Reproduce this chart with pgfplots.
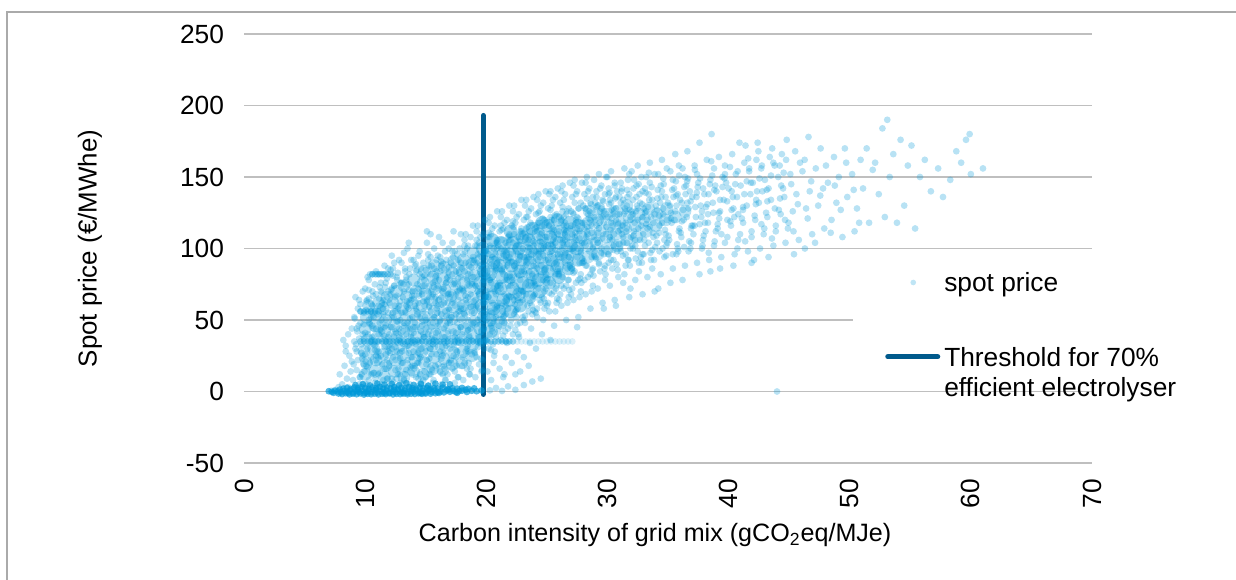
\documentclass[border=0pt]{standalone}
\usepackage{fontspec}
\setmainfont{Liberation Sans}
\usepackage{pgfplots}
\pgfplotsset{compat=1.18}
\definecolor{scat}{RGB}{0,152,216}
\definecolor{thr}{RGB}{0,90,140}
\definecolor{gridc}{RGB}{191,191,191}
\definecolor{framec}{RGB}{170,170,170}
\begin{document}
\begin{tikzpicture}
\path[use as bounding box] (0,0) rectangle (618bp,290bp);
\draw[framec, line width=0.7bp] (3.5bp,-20bp) -- (3.5bp,284bp) -- (640bp,284bp);
\begin{axis}[
  at={(122bp,58.5bp)}, anchor=south west,
  scale only axis, width=424bp, height=214.5bp,
  xmin=0, xmax=70, ymin=-50, ymax=250,
  xtick={0,10,20,30,40,50,60,70},
  xticklabels={0,10,20,30,40,50,60,70},
  ytick={-50,0,50,100,150,200,250},
  yticklabels={-50,0,50,100,150,200,250},
  axis line style={draw=none},
  major tick length=0pt,
  ymajorgrids, grid style={gridc, line width=0.65bp},
  tick label style={font=\fontsize{13.2}{15.5}\selectfont},
  x tick label style={yshift=-4.5bp, rotate=90, anchor=east},
  y tick label style={xshift=-6.5bp},
  xlabel={Carbon intensity of grid mix (gCO\textsubscript{2}eq/MJe)},
  ylabel={Spot price (€/MWhe)},
  xlabel style={font=\fontsize{12.6}{15}\selectfont, at={(axis description cs:0.4847,-0.168)}, anchor=center},
  ylabel style={font=\fontsize{13}{15}\selectfont, at={(axis description cs:-0.1816,0.5)}, anchor=center},
  legend style={at={(axis description cs:0.718,0.487)}, anchor=north west,
    draw=none, fill=white, font=\fontsize{13.2}{15.5}\selectfont,
    inner xsep=16bp, inner ysep=7bp, row sep=21bp,
    cells={anchor=base west}, nodes={inner xsep=2bp}},
  legend cell align=left,
  clip=false,
  mark size=1.7bp,
]
% dense core, left part
\addplot[only marks, mark=*, mark size=3.2bp, mark options={scat, fill opacity=0.3, draw opacity=0}, forget plot] coordinates {
(10.0,12)(10.1,20)(9.9,28)(10.2,36)(10.0,44)(10.1,52)(10.3,60)
(10.8,14)(10.9,22)(10.7,30)(11.0,38)(10.8,46)(10.9,54)(11.1,62)
(11.6,10)(11.7,18)(11.5,26)(11.8,34)(11.6,42)(11.7,50)(11.5,58)(11.8,66)
(12.4,14)(12.5,22)(12.3,30)(12.6,38)(12.4,46)(12.5,54)(12.3,62)(12.6,70)
(13.2,10)(13.3,18)(13.1,26)(13.4,34)(13.2,42)(13.3,50)(13.1,58)(13.4,66)(13.2,74)
(14.0,14)(14.1,22)(13.9,30)(14.2,38)(14.0,46)(14.1,54)(13.9,62)(14.2,70)(14.0,78)
(14.8,12)(14.9,20)(14.7,28)(15.0,36)(14.8,44)(14.9,52)(14.7,60)(15.0,68)(14.8,76)(14.9,84)
(15.6,16)(15.7,24)(15.5,32)(15.8,40)(15.6,48)(15.7,56)(15.5,64)(15.8,72)(15.6,80)(15.7,88)
(16.4,15)(16.5,23)(16.3,31)(16.6,39)(16.4,47)(16.5,55)(16.3,63)(16.6,71)(16.4,79)(16.5,87)
(17.2,19)(17.3,27)(17.1,35)(17.4,43)(17.2,51)(17.3,59)(17.1,67)(17.4,75)(17.2,83)(17.3,91)
(18.0,20)(18.1,28)(17.9,36)(18.2,44)(18.0,52)(18.1,60)(17.9,68)(18.2,76)(18.0,84)(18.1,92)
(18.8,25)(18.9,33)(18.7,41)(19.0,49)(18.8,57)(18.9,65)(18.7,73)(19.0,81)(18.8,89)(18.9,97)
};
% dense core, darkest part
\addplot[only marks, mark=*, mark size=3.4bp, mark options={scat, fill opacity=0.38, draw opacity=0}, forget plot] coordinates {
(19.6,36)(19.5,44)(19.8,52)(19.6,60)(19.7,68)(19.5,76)(19.8,84)(19.6,92)(19.7,100)
(20.4,42)(20.3,50)(20.6,58)(20.4,66)(20.5,74)(20.3,82)(20.6,90)(20.4,98)(20.5,106)
(21.2,48)(21.1,56)(21.4,64)(21.2,72)(21.3,80)(21.1,88)(21.4,96)(21.2,104)
(22.0,56)(21.9,64)(22.2,72)(22.0,80)(22.1,88)(21.9,96)(22.2,104)(22.0,112)
(22.8,60)(22.7,68)(23.0,76)(22.8,84)(22.9,92)(22.7,100)(23.0,108)
(23.6,66)(23.5,74)(23.8,82)(23.6,90)(23.7,98)(23.5,106)(23.8,114)
(24.4,70)(24.3,78)(24.6,86)(24.4,94)(24.5,102)(24.3,110)(24.6,118)
(25.2,76)(25.1,84)(25.4,92)(25.2,100)(25.3,108)(25.1,116)
(26.0,80)(25.9,88)(26.2,96)(26.0,104)(26.1,112)(25.9,120)
(26.8,86)(26.7,94)(27.0,102)(26.8,110)(26.9,118)
(27.6,92)(27.5,100)(27.8,108)(27.6,116)
};
% dense core, right part
\addplot[only marks, mark=*, mark size=3.2bp, mark options={scat, fill opacity=0.28, draw opacity=0}, forget plot] coordinates {
(28.4,94)(28.3,102)(28.6,110)(28.4,118)(28.5,126)
(29.2,96)(29.1,104)(29.4,112)(29.2,120)(29.3,128)
(30.0,100)(29.9,108)(30.2,116)(30.0,124)
(30.8,102)(30.7,110)(31.0,118)(30.8,126)
(31.6,106)(31.5,114)(31.8,122)(31.6,130)
(32.4,108)(32.3,116)(32.6,124)
(33.2,112)(33.1,120)(33.4,128)
(34.0,116)(34.1,124)
(34.8,120)(34.9,128)
(35.6,122)(36.4,126)
};
% dense band near zero price
\addplot[only marks, mark=*, mark options={scat, fill opacity=0.68, draw opacity=0}, forget plot] coordinates {
(7.0,0.2)(7.25,-0.3)(7.5,0.5)(7.75,0)(8.0,-0.6)(8.25,0.4)(8.5,-0.2)(8.75,0.7)(9.0,-0.8)(9.25,0.3)(9.5,-0.4)(9.75,0.6)(10.0,-1.0)(10.25,0.2)(10.5,-0.5)(10.75,0.9)(11.0,-0.7)(11.25,0.4)(11.5,-0.3)(11.75,0.8)(12.0,-0.9)(12.25,0.1)(12.5,-0.6)(12.75,0.7)(13.0,-0.4)(13.25,0.5)(13.5,-0.8)(13.75,0.3)(14.0,-0.2)(14.25,0.9)(14.5,-0.5)(14.75,0.4)(15.0,-0.7)(15.25,0.6)(15.5,-0.3)(15.75,0.8)(16.0,-0.5)(16.25,0.2)(16.5,-0.6)(16.75,0.7)(17.0,-0.2)(17.25,0.5)(17.5,-0.4)(17.75,0.3)(18.0,0.6)(18.4,-0.3)(18.8,0.5)(19.2,0.2)(19.6,0.7)
(7.8,-1.4)(8.1,-1.8)(8.4,-1.2)(8.7,-2.0)(9.0,-1.5)(9.3,-1.9)(9.6,-1.3)(9.9,-2.1)(10.2,-1.6)(10.5,-1.9)(10.8,-1.4)(11.1,-2.0)(11.4,-1.5)(11.7,-1.8)(12.0,-1.3)(12.3,-2.0)(12.6,-1.6)(12.9,-1.8)(13.2,-1.4)(13.5,-1.9)(13.8,-1.5)(14.1,-1.7)(14.4,-1.3)(14.7,-1.6)(15.0,-1.4)(15.4,-1.5)(15.8,-1.2)
(8.2,2.0)(8.5,2.6)(8.8,1.8)(9.1,2.8)(9.4,2.2)(9.7,3.0)(10.0,2.4)(10.3,1.9)(10.6,2.9)(10.9,2.3)(11.2,3.2)(11.5,2.0)(11.8,2.7)(12.1,2.2)(12.4,3.1)(12.7,1.9)(13.0,2.6)(13.3,2.1)(13.6,3.0)(13.9,2.4)(14.2,1.8)(14.5,2.8)(14.8,2.2)(15.1,2.6)(15.4,1.9)(15.7,2.4)(16.0,2.1)(16.4,2.7)(16.8,1.8)(17.2,2.3)(17.6,2.0)(18.0,2.5)(18.5,1.9)(19.0,2.2)
(9.2,4.5)(9.8,5.2)(10.4,4.2)(11.0,5.6)(11.6,4.8)(12.2,5.4)(12.8,4.4)(13.4,5.8)(14.0,4.6)(14.6,5.3)(15.2,4.1)(15.8,5.5)(16.4,4.7)(17.0,5.0)
(7.4,-0.9)(7.9,1.3)(8.6,-1.0)(9.4,1.1)(10.1,-0.2)(10.9,1.4)(11.6,-1.1)(12.4,1.2)(13.1,-1.0)(13.9,1.0)(14.6,-1.2)(15.3,1.1)(16.1,-1.0)(16.9,1.3)(17.6,-0.9)(18.3,1.2)
};
% horizontal bands
\addplot[only marks, mark=*, mark options={scat, fill opacity=0.38, draw opacity=0}, forget plot] coordinates {
(9.6,35)(9.9,35)(10.2,35)(10.5,35)(10.8,35)(11.1,35)(11.4,35)(11.7,35)(12.0,35)(12.3,35)(12.6,35)(12.9,35)(13.2,35)(13.5,35)(13.8,35)(14.1,35)(14.4,35)(14.7,35)(15.0,35)(15.3,35)(15.6,35)(15.9,35)(16.2,35)(16.5,35)(16.8,35)(17.1,35)(17.4,35)(17.7,35)(18.0,35)(18.3,35)(18.6,35)(18.9,35)(19.2,35)(19.5,35)(19.8,35)(20.1,35)(20.4,35)(20.7,35)(21.0,35)(21.3,35)(21.6,35)(21.9,35)(22.2,35)
(10.6,82)(10.85,82)(11.1,82)(11.35,82)(11.6,82)(11.85,82)(12.1,82)
(9.6,56)(9.9,56)(10.2,56)(10.5,56)(10.8,56)(11.1,56)
};
\addplot[only marks, mark=*, mark options={scat, fill opacity=0.14, draw opacity=0}, forget plot] coordinates {
(22.55,35)(22.9,35)(23.25,35)(23.6,35)(23.95,35)(24.3,35)(24.65,35)(25.0,35)(25.35,35)(25.7,35)(26.05,35)(26.4,35)(26.75,35)(27.1,35)
};
% main cloud
\addplot[only marks, mark=*, mark options={scat, fill opacity=0.28, draw opacity=0}, forget plot] coordinates {
(20.3,0.8)(20.8,2.5)(21.3,0.4)(21.8,3.6)(22.4,1.2)(23.1,4.5)(23.8,7)(24.5,9)(22.8,14)(21.5,12)(23.5,18)(44,0)
(7.2,0.5)(7.5,1)(7.8,3)(7.9,12)
(8.1,5)(8.3,18)(8.4,32)(8.5,9)(8.6,40)(8.7,25)(8.8,14)(8.9,44)(8.2,36)(8.6,3)(8.9,21)(8.4,28)
(9.0,8)(9.1,52)(9.2,30)(9.2,66)(9.3,15)(9.3,44)(9.4,58)(9.4,22)(9.5,37)(9.5,5)(9.6,61)(9.6,48)(9.7,27)(9.7,12)(9.8,70)(9.8,40)(9.9,55)(9.9,19)(9.1,35)(9.3,3)(9.5,64)(9.7,33)(9.9,47)(9.6,10)(9.8,25)
(10.0,72)(10.0,41)(10.1,18)(10.1,57)(10.2,80)(10.2,30)(10.3,65)(10.3,8)(10.4,47)(10.4,82)(10.5,24)(10.5,61)(10.6,38)(10.6,82)(10.7,13)(10.7,52)(10.8,75)(10.8,29)(10.9,68)(10.9,44)(10.2,4)(10.4,35)(10.6,70)(10.8,55)(10.0,26)(10.3,50)(10.5,12)(10.7,33)(10.9,84)(10.1,63)(10.4,20)(10.6,46)(10.8,6)(10.9,22)(10.3,78)
(11.0,82)(11.0,35)(11.1,60)(11.1,12)(11.2,48)(11.2,82)(11.3,25)(11.3,70)(11.4,5)(11.4,42)(11.5,82)(11.5,58)(11.6,31)(11.6,16)(11.7,76)(11.7,50)(11.8,66)(11.8,9)(11.9,38)(11.9,86)(11.0,54)(11.1,28)(11.2,73)(11.3,44)(11.4,19)(11.5,64)(11.6,88)(11.7,35)(11.8,22)(11.9,55)(11.2,3)(11.4,62)(11.6,45)(11.8,79)(11.1,40)(11.5,8)(11.7,26)(11.9,70)
(12.0,62)(12.0,18)(12.1,45)(12.1,85)(12.2,30)(12.2,72)(12.3,7)(12.3,55)(12.4,90)(12.4,38)(12.5,22)(12.5,66)(12.6,49)(12.6,80)(12.7,12)(12.7,34)(12.8,60)(12.8,92)(12.9,27)(12.9,76)(12.0,40)(12.2,52)(12.4,3)(12.6,28)(12.8,44)(12.1,68)(12.3,86)(12.5,15)(12.7,58)(12.9,50)(12.2,95)(12.4,74)(12.6,9)(12.8,36)(12.3,24)(12.5,42)(12.7,83)(12.9,6)
(13.0,55)(13.0,90)(13.1,20)(13.1,42)(13.2,70)(13.2,8)(13.3,33)(13.3,84)(13.4,60)(13.4,15)(13.5,100)(13.5,48)(13.6,27)(13.6,75)(13.7,5)(13.7,62)(13.8,38)(13.8,92)(13.9,18)(13.9,52)(13.0,30)(13.2,46)(13.4,80)(13.6,58)(13.8,24)(13.1,66)(13.3,12)(13.5,35)(13.7,86)(13.9,70)(13.2,97)(13.4,40)(13.6,3)(13.8,64)(13.0,76)(13.3,56)(13.5,22)(13.7,44)(13.9,34)(13.6,104)
(14.0,65)(14.0,28)(14.1,88)(14.1,48)(14.2,10)(14.2,58)(14.3,75)(14.3,36)(14.4,95)(14.4,20)(14.5,52)(14.5,82)(14.6,6)(14.6,42)(14.7,68)(14.7,30)(14.8,90)(14.8,56)(14.9,14)(14.9,74)(14.0,45)(14.2,84)(14.4,62)(14.6,24)(14.8,40)(14.1,18)(14.3,54)(14.5,98)(14.7,46)(14.9,60)(14.2,33)(14.4,72)(14.6,86)(14.8,8)(14.0,92)(14.3,4)(14.5,26)(14.7,80)(14.9,38)(14.1,70)
(15.0,50)(15.0,85)(15.1,22)(15.1,64)(15.2,40)(15.2,96)(15.3,12)(15.3,74)(15.4,56)(15.4,30)(15.5,88)(15.5,45)(15.6,6)(15.6,68)(15.7,100)(15.7,36)(15.8,80)(15.8,18)(15.9,58)(15.9,92)(15.0,28)(15.2,70)(15.4,82)(15.6,48)(15.8,38)(15.1,104)(15.3,60)(15.5,16)(15.7,52)(15.9,26)(15.2,4)(15.4,94)(15.6,76)(15.8,62)(15.0,10)(15.3,42)(15.5,66)(15.7,86)(15.9,72)(15.6,33)(15.1,112)(15.4,110)
(16.0,60)(16.0,95)(16.1,35)(16.1,78)(16.2,14)(16.2,50)(16.3,88)(16.3,66)(16.4,25)(16.4,104)(16.5,44)(16.5,72)(16.6,8)(16.6,56)(16.7,92)(16.7,32)(16.8,80)(16.8,62)(16.9,20)(16.9,100)(16.0,42)(16.2,84)(16.4,70)(16.6,38)(16.8,48)(16.1,108)(16.3,54)(16.5,18)(16.7,76)(16.9,58)(16.2,28)(16.4,90)(16.6,98)(16.8,12)(16.0,74)(16.3,5)(16.5,86)(16.7,46)(16.9,68)(16.5,62)
(17.0,66)(17.0,30)(17.1,90)(17.1,52)(17.2,104)(17.2,16)(17.3,75)(17.3,42)(17.4,60)(17.4,98)(17.5,24)(17.5,84)(17.6,48)(17.6,70)(17.7,10)(17.7,92)(17.8,56)(17.8,36)(17.9,80)(17.9,110)(17.0,78)(17.2,62)(17.4,38)(17.6,96)(17.8,72)(17.1,20)(17.3,88)(17.5,54)(17.7,64)(17.9,45)(17.2,82)(17.4,6)(17.6,28)(17.8,100)(17.0,50)(17.3,112)(17.5,68)(17.7,34)(17.9,58)(17.4,76)
(18.0,72)(18.0,40)(18.1,96)(18.1,58)(18.2,20)(18.2,84)(18.3,110)(18.3,64)(18.4,30)(18.4,78)(18.5,50)(18.5,102)(18.6,12)(18.6,88)(18.7,68)(18.7,44)(18.8,92)(18.8,26)(18.9,60)(18.9,116)(18.0,86)(18.2,54)(18.4,100)(18.6,74)(18.8,36)(18.1,70)(18.3,46)(18.5,82)(18.7,16)(18.9,80)(18.2,106)(18.4,62)(18.6,38)(18.8,56)(18.0,18)(18.3,90)(18.5,66)(18.7,108)(18.9,48)(18.1,8)(18.5,28)(18.8,76)
(19.0,80)(19.0,48)(19.1,102)(19.1,64)(19.2,24)(19.2,90)(19.3,116)(19.3,70)(19.4,38)(19.4,86)(19.5,56)(19.5,108)(19.6,14)(19.6,94)(19.7,76)(19.7,52)(19.8,98)(19.8,30)(19.9,66)(19.9,120)(19.0,92)(19.2,60)(19.4,104)(19.6,82)(19.8,44)(19.1,74)(19.3,50)(19.5,88)(19.7,22)(19.9,84)(19.2,112)(19.4,68)(19.6,42)(19.8,62)(19.0,28)(19.3,96)(19.5,72)(19.7,110)(19.9,54)(19.1,10)(19.5,34)(19.8,78)
(20.0,88)(20.0,56)(20.1,108)(20.1,70)(20.2,30)(20.2,96)(20.3,122)(20.3,78)(20.4,46)(20.4,92)(20.5,62)(20.5,114)(20.6,20)(20.6,100)(20.7,84)(20.7,58)(20.8,104)(20.8,38)(20.9,74)(20.9,126)(20.0,98)(20.2,66)(20.4,110)(20.6,88)(20.8,52)(20.1,80)(20.3,56)(20.5,94)(20.7,28)(20.9,90)(20.2,118)(20.4,76)(20.6,48)(20.8,68)(20.0,36)(20.3,102)(20.5,80)(20.7,116)(20.9,60)(20.1,14)(20.5,42)(20.8,86)(20.4,8)(20.6,72)(20.9,106)
(21.0,92)(21.0,62)(21.1,112)(21.1,76)(21.2,36)(21.2,100)(21.3,126)(21.3,84)(21.4,52)(21.4,96)(21.5,68)(21.5,118)(21.6,24)(21.6,104)(21.7,88)(21.7,64)(21.8,108)(21.8,44)(21.9,80)(21.9,130)(21.0,102)(21.2,72)(21.4,114)(21.6,92)(21.8,58)(21.1,86)(21.3,60)(21.5,98)(21.7,34)(21.9,94)(21.2,122)(21.4,82)(21.6,54)(21.8,74)(21.0,42)(21.3,106)(21.5,86)(21.7,120)(21.9,66)(21.1,16)(21.5,48)(21.8,90)(21.4,10)(21.6,78)(21.9,110)
(22.0,96)(22.0,66)(22.1,116)(22.1,80)(22.2,40)(22.2,104)(22.3,130)(22.3,88)(22.4,56)(22.4,100)(22.5,72)(22.5,122)(22.6,28)(22.6,108)(22.7,92)(22.7,68)(22.8,112)(22.8,48)(22.9,84)(22.9,134)(22.0,106)(22.2,76)(22.4,118)(22.6,96)(22.8,62)(22.1,90)(22.3,64)(22.5,102)(22.7,38)(22.9,98)(22.2,126)(22.4,86)(22.6,58)(22.8,78)(22.0,46)(22.3,110)(22.5,90)(22.7,124)(22.9,70)(22.1,20)(22.5,52)(22.8,94)(22.4,12)(22.6,82)(22.9,114)
(23.0,100)(23.0,70)(23.1,120)(23.1,84)(23.2,48)(23.2,108)(23.3,134)(23.3,92)(23.4,60)(23.4,104)(23.5,78)(23.5,126)(23.6,34)(23.6,112)(23.7,96)(23.7,74)(23.8,116)(23.8,54)(23.9,88)(23.9,136)(23.0,110)(23.2,82)(23.4,122)(23.6,100)(23.8,66)(23.1,94)(23.3,68)(23.5,106)(23.7,44)(23.9,102)(23.2,130)(23.4,90)(23.6,62)(23.8,82)(23.0,52)(23.3,114)(23.5,94)(23.7,128)(23.9,76)(23.1,24)(23.5,56)(23.8,98)
(24.0,104)(24.0,74)(24.1,124)(24.1,88)(24.2,52)(24.2,112)(24.3,138)(24.3,96)(24.4,64)(24.4,108)(24.5,82)(24.5,130)(24.6,40)(24.6,116)(24.7,100)(24.7,78)(24.8,120)(24.8,58)(24.9,92)(24.9,140)(24.0,114)(24.2,86)(24.4,126)(24.6,104)(24.8,70)(24.1,98)(24.3,72)(24.5,110)(24.7,50)(24.9,106)(24.2,134)(24.4,94)(24.6,66)(24.8,86)(24.0,56)(24.3,118)(24.5,98)(24.7,132)(24.9,80)(24.1,30)(24.5,62)(24.8,102)
(25.0,108)(25.0,78)(25.1,128)(25.1,92)(25.2,56)(25.2,116)(25.3,140)(25.3,100)(25.4,68)(25.4,112)(25.5,86)(25.5,134)(25.6,46)(25.6,120)(25.7,104)(25.7,82)(25.8,124)(25.8,62)(25.9,96)(25.9,142)(25.0,118)(25.2,90)(25.4,130)(25.6,108)(25.8,74)(25.1,102)(25.3,76)(25.5,114)(25.7,56)(25.9,110)(25.2,138)(25.4,98)(25.6,70)(25.8,90)(25.0,60)(25.3,122)(25.5,102)(25.7,136)(25.9,84)(25.3,36)
(26.0,112)(26.0,82)(26.1,132)(26.1,96)(26.2,60)(26.2,120)(26.3,144)(26.3,104)(26.4,72)(26.4,116)(26.5,90)(26.5,138)(26.6,50)(26.6,124)(26.7,108)(26.7,86)(26.8,128)(26.8,66)(26.9,100)(26.9,146)(26.0,122)(26.2,94)(26.4,134)(26.6,112)(26.8,78)(26.1,106)(26.3,80)(26.5,118)(26.7,62)(26.9,114)(26.2,140)(26.4,102)(26.6,74)(26.8,94)(26.0,64)(26.3,126)(26.5,106)(26.9,88)
(27.0,116)(27.0,86)(27.1,136)(27.1,100)(27.2,64)(27.2,124)(27.3,148)(27.3,108)(27.4,76)(27.4,120)(27.5,94)(27.5,140)(27.6,52)(27.6,128)(27.7,112)(27.7,90)(27.8,132)(27.8,70)(27.9,104)(27.9,146)(27.0,126)(27.2,98)(27.4,138)(27.6,116)(27.8,82)(27.1,110)(27.3,84)(27.5,122)(27.7,66)(27.9,118)(27.2,144)(27.4,106)(27.6,78)(27.8,98)(27.0,68)(27.5,45)
(28.0,118)(28.0,90)(28.1,138)(28.1,104)(28.2,68)(28.2,128)(28.3,150)(28.3,112)(28.4,80)(28.4,124)(28.5,98)(28.5,142)(28.6,58)(28.6,132)(28.7,116)(28.7,94)(28.8,136)(28.8,74)(28.9,108)(28.9,148)(28.0,130)(28.2,102)(28.4,140)(28.6,120)(28.8,86)(28.1,114)(28.3,88)(28.5,126)(28.7,70)(28.9,122)(28.2,146)(28.4,110)(28.6,82)(28.8,100)
(29.0,120)(29.0,94)(29.1,140)(29.1,106)(29.2,72)(29.2,130)(29.3,152)(29.3,114)(29.4,84)(29.4,126)(29.5,100)(29.5,144)(29.6,62)(29.6,134)(29.7,118)(29.7,96)(29.8,138)(29.8,78)(29.9,110)(29.9,150)(29.0,132)(29.2,104)(29.4,142)(29.6,122)(29.8,88)(29.1,116)(29.3,90)(29.5,128)(29.7,58)(29.9,124)
(30.0,122)(30.1,96)(30.1,142)(30.2,108)(30.2,74)(30.3,132)(30.3,154)(30.4,116)(30.4,86)(30.5,128)(30.5,102)(30.6,146)(30.6,64)(30.7,136)(30.7,120)(30.8,98)(30.8,140)(30.9,80)(30.9,112)(30.0,150)(30.2,134)(30.4,106)(30.6,144)(30.8,124)(30.1,90)(30.3,118)(30.5,92)(30.7,60)
(31.0,124)(31.1,98)(31.1,146)(31.2,110)(31.3,76)(31.3,134)(31.4,156)(31.5,118)(31.5,88)(31.6,130)(31.6,104)(31.7,148)(31.8,66)(31.8,138)(31.9,122)(31.9,100)(31.2,142)(31.4,82)(31.6,114)(31.8,152)(31.0,136)(31.3,108)(31.5,126)(31.7,92)(31.9,72)
(32.0,126)(32.1,100)(32.2,148)(32.2,112)(32.3,78)(32.4,136)(32.5,158)(32.5,120)(32.6,90)(32.7,132)(32.7,106)(32.8,150)(32.9,68)(32.9,140)(32.1,124)(32.3,102)(32.4,144)(32.6,84)(32.8,116)(32.0,154)(32.5,128)(32.9,96)
(33.0,128)(33.1,102)(33.2,150)(33.3,114)(33.3,80)(33.4,138)(33.5,160)(33.6,122)(33.6,92)(33.7,134)(33.8,108)(33.9,152)(33.9,70)(33.1,142)(33.2,126)(33.4,104)(33.5,146)(33.7,86)(33.8,118)(33.0,96)
(34.0,130)(34.1,104)(34.2,152)(34.3,116)(34.4,82)(34.5,140)(34.5,162)(34.6,124)(34.7,94)(34.8,136)(34.8,110)(34.9,156)(34.2,72)(34.4,144)(34.6,128)(34.7,106)(34.9,120)(34.3,98)
(35.0,132)(35.1,106)(35.2,154)(35.3,118)(35.4,86)(35.5,142)(35.6,166)(35.6,126)(35.7,96)(35.8,138)(35.9,112)(35.9,158)(35.2,76)(35.4,148)(35.7,130)(35.8,100)
(36.0,134)(36.1,108)(36.2,156)(36.3,120)(36.4,88)(36.5,144)(36.6,168)(36.7,128)(36.7,98)(36.8,140)(36.9,114)(36.2,78)(36.4,150)(36.6,132)(36.9,104)
(37.0,136)(37.1,110)(37.2,158)(37.3,122)(37.4,90)(37.5,146)(37.6,174)(37.7,130)(37.8,100)(37.9,142)(37.2,116)(37.4,152)(37.6,82)(37.8,126)
(38.0,138)(38.1,112)(38.2,162)(38.3,124)(38.4,92)(38.5,148)(38.6,180)(38.7,132)(38.8,102)(38.9,144)(38.3,118)(38.5,84)(38.8,156)
(39.0,140)(39.1,114)(39.2,164)(39.3,126)(39.4,94)(39.5,150)(39.6,134)(39.7,104)(39.8,146)(39.9,120)(39.3,86)(39.7,158)
(40.0,142)(40.2,116)(40.3,166)(40.4,128)(40.5,96)(40.6,152)(40.7,136)(40.8,106)(40.9,174)(40.4,88)(40.8,124)
(41.0,144)(41.2,118)(41.3,160)(41.5,130)(41.6,98)(41.7,154)(41.8,138)(41.9,108)(41.4,172)(41.9,90)
(42.0,146)(42.2,120)(42.3,162)(42.5,132)(42.6,100)(42.7,156)(42.8,140)(42.9,110)(42.4,174)(42.1,92)
(43.0,148)(43.2,122)(43.4,164)(43.5,134)(43.7,102)(43.8,158)(43.9,112)(43.3,94)(43.6,170)
(44.1,150)(44.3,124)(44.4,166)(44.6,136)(44.7,104)(44.8,176)(44.9,114)(44.5,142)
(45.1,152)(45.3,126)(45.5,168)(45.6,138)(45.8,106)(45.9,160)(45.4,96)
(46.1,154)(46.4,128)(46.6,178)(46.7,140)(46.9,110)(46.3,100)
(47.2,156)(47.4,130)(47.6,170)(47.8,142)(47.9,114)
(48.2,146)(48.5,120)(48.7,164)(48.9,132)
(49.1,150)(49.4,108)(49.6,170)(49.8,136)
(50.2,152)(50.4,112)(50.6,128)(50.9,162)
(51.1,142)(51.4,170)(51.6,118)(51.9,155)
(52.1,160)(52.4,138)(52.7,184)(52.9,122)
(53.1,190)(53.3,150)(53.6,166)(53.9,118)
(54.2,176)(54.5,130)(54.8,158)
(55.1,172)(55.4,114)(55.8,150)
(56.2,162)(56.7,140)
(57.3,156)(57.7,136)
(58.3,148)(58.8,168)
(59.2,160)(59.6,176)(59.9,180)
(60.0,152)(61.0,156)
(9.05,19)(9.45,46)(9.85,5)(9.25,33)(9.65,56)(9.95,14)(9.35,42)(9.75,23)(9.15,51)(9.55,10)(9.9,37)(9.3,28)
(10.05,21)(10.45,56)(10.85,9)(10.25,40)(10.65,67)(10.95,28)(10.35,48)(10.75,13)(10.15,64)(10.55,36)(10.1,5)(10.5,52)(10.9,25)(10.3,71)(10.7,44)(10.2,17)(10.6,60)(10.8,32)
(11.05,24)(11.45,58)(11.85,9)(11.25,43)(11.65,73)(11.95,31)(11.35,50)(11.75,16)(11.15,65)(11.55,39)(11.1,5)(11.5,54)(11.9,28)(11.3,76)(11.7,46)(11.2,13)(11.6,61)(11.8,35)(11.4,69)(11.0,20)
(12.05,27)(12.45,60)(12.85,12)(12.25,45)(12.65,78)(12.95,34)(12.35,52)(12.75,16)(12.15,71)(12.55,41)(12.1,5)(12.5,56)(12.9,23)(12.3,81)(12.7,49)(12.2,9)(12.6,67)(12.8,38)(12.4,74)(12.0,20)(12.88,63)(12.48,31)
(13.05,28)(13.45,63)(13.85,13)(13.25,48)(13.65,82)(13.95,36)(13.35,55)(13.75,17)(13.15,75)(13.55,44)(13.1,5)(13.5,59)(13.9,24)(13.3,86)(13.7,51)(13.2,9)(13.6,71)(13.8,40)(13.4,78)(13.0,20)(13.88,67)(13.48,32)
(14.05,16)(14.45,67)(14.85,38)(14.25,85)(14.65,5)(14.95,52)(14.35,27)(14.75,74)(14.15,45)(14.55,12)(14.1,60)(14.5,34)(14.9,81)(14.3,20)(14.7,49)(14.2,89)(14.6,30)(14.8,63)(14.4,9)(14.0,41)(14.88,78)(14.48,23)(14.28,56)(14.68,70)
(15.05,19)(15.45,70)(15.85,41)(15.25,88)(15.65,8)(15.95,55)(15.35,30)(15.75,77)(15.15,48)(15.55,15)(15.1,63)(15.5,37)(15.9,84)(15.3,23)(15.7,52)(15.2,92)(15.6,33)(15.8,66)(15.4,12)(15.0,44)(15.88,81)(15.48,26)(15.28,59)(15.68,73)
(16.05,19)(16.45,72)(16.85,42)(16.25,91)(16.65,8)(16.95,57)(16.35,31)(16.75,79)(16.15,49)(16.55,16)(16.1,64)(16.5,38)(16.9,87)(16.3,23)(16.7,53)(16.2,94)(16.6,34)(16.8,68)(16.4,12)(16.0,46)(16.88,83)(16.48,27)(16.28,61)(16.68,76)
(17.05,22)(17.45,75)(17.85,45)(17.25,94)(17.65,10)(17.95,60)(17.35,33)(17.75,83)(17.15,52)(17.55,18)(17.1,68)(17.5,41)(17.9,90)(17.3,25)(17.7,56)(17.2,98)(17.6,37)(17.8,71)(17.4,14)(17.0,48)(17.88,87)(17.48,29)(17.28,64)(17.68,79)
(18.05,24)(18.45,79)(18.85,47)(18.25,98)(18.65,12)(18.95,63)(18.35,36)(18.75,87)(18.15,55)(18.55,20)(18.1,71)(18.5,43)(18.9,94)(18.3,28)(18.7,59)(18.2,102)(18.6,39)(18.8,75)(18.4,16)(18.0,51)(18.88,90)(18.48,32)(18.28,67)(18.68,83)
(19.05,27)(19.45,82)(19.85,51)(19.25,102)(19.65,15)(19.95,66)(19.35,39)(19.75,90)(19.15,59)(19.55,23)(19.1,74)(19.5,47)(19.9,98)(19.3,31)(19.7,62)(19.2,106)(19.6,43)(19.8,78)(19.4,19)(19.0,55)(19.88,94)(19.48,35)(19.28,70)(19.68,86)
(20.05,36)(20.45,89)(20.85,59)(20.25,108)(20.65,25)(20.95,74)(20.35,48)(20.75,96)(20.15,66)(20.55,33)(20.1,81)(20.5,55)(20.9,104)(20.3,40)(20.7,70)(20.2,111)(20.6,51)(20.8,85)(20.4,29)(20.0,63)(20.88,100)(20.48,44)(20.28,78)(20.68,93)
(21.05,46)(21.45,95)(21.85,67)(21.25,113)(21.65,35)(21.95,81)(21.35,56)(21.75,102)(21.15,74)(21.55,42)(21.1,88)(21.5,63)(21.9,109)(21.3,49)(21.7,78)(21.2,116)(21.6,60)(21.8,92)(21.4,39)(21.0,70)(21.88,106)(21.48,53)(21.28,85)(21.68,99)
(22.05,50)(22.45,98)(22.85,71)(22.25,115)(22.65,40)(22.95,85)(22.35,61)(22.75,105)(22.15,78)(22.55,47)(22.1,91)(22.5,67)(22.9,112)(22.3,54)(22.7,81)(22.2,119)(22.6,64)(22.8,95)(22.4,43)(22.0,74)(22.88,108)(22.48,57)(22.28,88)(22.68,102)
(23.05,70)(23.45,101)(23.85,57)(23.25,88)(23.65,118)(23.95,77)(23.35,94)(23.75,60)(23.15,111)(23.55,84)(23.1,50)(23.5,98)(23.9,67)(23.3,122)(23.7,91)(23.2,53)(23.6,108)(23.8,81)(23.4,115)(23.0,64)(23.88,105)(23.48,74)
(24.05,75)(24.45,105)(24.85,62)(24.25,92)(24.65,121)(24.95,82)(24.35,98)(24.75,65)(24.15,115)(24.55,88)(24.1,55)(24.5,102)(24.9,72)(24.3,125)(24.7,95)(24.2,58)(24.6,111)(24.8,85)(24.4,118)(24.0,68)(24.88,108)(24.48,78)
(25.05,79)(25.45,110)(25.85,65)(25.25,96)(25.65,123)(25.95,86)(25.35,103)(25.75,72)(25.15,116)(25.55,93)(25.1,62)(25.5,106)(25.9,82)(25.3,127)(25.7,99)(25.2,69)(25.6,113)(25.8,89)(25.4,120)(25.0,76)
(26.05,84)(26.45,113)(26.85,71)(26.25,100)(26.65,126)(26.95,90)(26.35,106)(26.75,78)(26.15,119)(26.55,97)(26.1,68)(26.5,110)(26.9,87)(26.3,129)(26.7,103)(26.2,74)(26.6,116)(26.8,94)(26.4,122)(26.0,81)
(27.05,86)(27.45,118)(27.85,76)(27.25,104)(27.65,128)(27.95,93)(27.35,111)(27.75,79)(27.15,125)(27.55,100)(27.1,72)(27.5,114)(27.9,90)(27.3,132)(27.7,107)(27.2,83)(27.6,121)(27.8,97)
(28.05,91)(28.45,121)(28.85,81)(28.25,108)(28.65,131)(28.95,98)(28.35,115)(28.75,85)(28.15,128)(28.55,105)(28.1,78)(28.5,118)(28.9,95)(28.3,135)(28.7,111)(28.2,88)(28.6,125)(28.8,101)
(29.05,93)(29.45,122)(29.85,82)(29.25,111)(29.65,133)(29.95,100)(29.35,118)(29.75,86)(29.15,129)(29.55,107)(29.1,136)(29.5,97)(29.9,115)(29.3,89)(29.7,126)(29.2,104)
(30.05,96)(30.45,124)(30.85,85)(30.25,113)(30.65,135)(30.95,103)(30.35,121)(30.75,89)(30.15,131)(30.55,110)(30.1,138)(30.5,99)(30.9,117)(30.3,92)(30.7,128)(30.2,106)
(31.05,100)(31.45,128)(31.85,88)(31.25,116)(31.65,136)(31.95,108)(31.35,124)(31.75,92)(31.15,140)(31.55,112)(31.1,132)(31.5,96)(31.9,120)(31.3,104)
(32.05,102)(32.45,130)(32.85,90)(32.25,118)(32.65,138)(32.95,110)(32.35,126)(32.75,94)(32.15,142)(32.55,114)(32.1,134)(32.5,98)(32.9,122)(32.3,106)
(33.05,106)(33.45,134)(33.85,92)(33.25,120)(33.65,143)(33.95,101)(33.35,129)(33.75,111)(33.15,139)(33.55,97)(33.1,125)(33.5,115)
(34.05,109)(34.45,136)(34.85,95)(34.25,123)(34.65,145)(34.95,104)(34.35,132)(34.75,113)(34.15,141)(34.55,100)(34.1,127)(34.5,118)
(35.05,109)(35.45,136)(35.85,98)(35.25,125)(35.65,147)(35.95,114)(35.35,141)(35.75,103)(35.15,130)(35.55,120)
(36.05,111)(36.45,138)(36.85,100)(36.25,127)(36.65,149)(36.95,116)(36.35,143)(36.75,105)(36.15,132)(36.55,122)
(37.05,116)(37.45,143)(37.85,102)(37.25,129)(37.65,149)(37.95,109)(37.35,136)(37.75,122)
(38.05,118)(38.45,145)(38.85,105)(38.25,131)(38.65,151)(38.95,112)(38.35,138)(38.75,125)
(39.1,117)(39.5,143)(39.9,108)(39.3,134)(39.7,152)(39.2,125)
(40.15,119)(40.55,145)(40.95,110)(40.35,136)(40.75,154)(40.25,127)
(41.1,121)(41.5,147)(41.9,112)(41.3,138)(41.7,156)(41.2,129)
(42.15,123)(42.55,149)(42.95,114)(42.35,140)(42.75,158)(42.25,131)
(43.1,125)(43.5,151)(43.9,116)(43.3,142)(43.7,160)(43.2,133)
(44.15,127)(44.55,153)(44.95,118)(44.35,144)(44.75,162)(44.25,135)
(30.35,127)(30.72,103)(30.18,139)(30.91,118)(31.28,95)(31.63,141)(31.07,113)(31.84,127)(32.16,109)(32.58,145)(32.33,93)(32.87,131)(33.21,117)(33.69,99)(33.42,153)(33.93,124)(34.27,111)(34.61,149)(34.13,135)(34.86,102)(35.24,121)(35.68,137)(35.39,96)(35.92,151)
(36.15,119)(36.58,147)(36.33,101)(36.87,133)(37.22,155)(37.61,117)(37.38,139)(37.89,106)(38.14,129)(38.57,161)(38.36,97)(38.82,141)(39.23,121)(39.66,149)(39.41,110)(39.88,133)(40.12,157)(40.47,122)(40.73,100)(40.26,140)
(41.19,127)(41.62,163)(41.37,105)(41.84,146)(42.28,134)(42.71,117)(42.46,168)(43.15,141)(43.58,107)(43.82,128)(44.22,158)(44.66,120)(45.17,145)(45.72,131)(45.36,112)(46.28,162)(46.53,121)(46.82,147)(47.14,104)(47.57,137)(48.04,158)(48.43,111)(48.77,144)(49.26,127)(49.71,160)(50.33,141)(50.78,118)
};
\addplot[thr, line width=2.6bp, line cap=round, forget plot] coordinates {(19.75,-2) (19.75,193)};
\addlegendimage{legend image code/.code={\path[draw=none] (0bp,0bp) -- (27.5bp,0bp); \fill[draw=none, scat!25] (14bp,0.5bp) circle (1.4bp);}}
\addlegendentry{spot price}
\addlegendimage{legend image code/.code={\path[draw=none] (0bp,0bp) -- (27.5bp,0bp); \draw[thr, line width=2.6bp, line cap=round] (1.3bp,0bp) -- (26.2bp,0bp);}}
\addlegendentry{\begin{tabular}[t]{@{}l@{}}Threshold for 70\%\\efficient electrolyser\end{tabular}}
\end{axis}
\end{tikzpicture}
\end{document}
